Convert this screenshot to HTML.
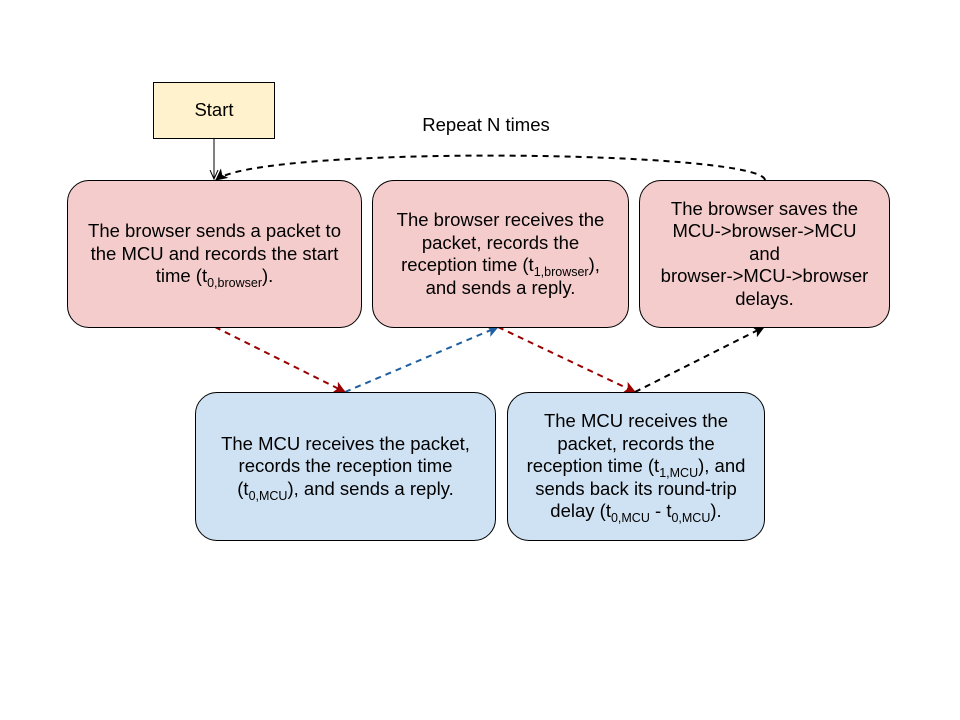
<!DOCTYPE html>
<html><head><meta charset="utf-8"><style>
body{margin:0;width:960px;height:720px;background:#fff;position:relative;font-family:"Liberation Sans",Arial,sans-serif;overflow:hidden}
.b{position:absolute;box-sizing:border-box;border:1px solid #000;display:flex;align-items:center;justify-content:center;text-align:center;font-size:18.5px;line-height:22.5px;color:#000;white-space:nowrap}
.r{background:#f4cccc;border-radius:22px}
.u{background:#cfe2f3;border-radius:22px}
sub{font-size:12.5px;vertical-align:-5px;line-height:0}
svg{position:absolute;left:0;top:0}
</style></head><body>
<svg width="960" height="720">
<defs>
<marker id="mr" markerWidth="12" markerHeight="12" refX="11" refY="6" orient="auto" markerUnits="userSpaceOnUse"><path d="M0,0 L12,6 L0,12 L3,6z" fill="#990000"/></marker>
<marker id="mb" markerWidth="12" markerHeight="12" refX="11" refY="6" orient="auto" markerUnits="userSpaceOnUse"><path d="M0,0 L12,6 L0,12 L3,6z" fill="#1f5fa0"/></marker>
<marker id="mk" markerWidth="12" markerHeight="12" refX="11" refY="6" orient="auto" markerUnits="userSpaceOnUse"><path d="M0,0 L12,6 L0,12 L3,6z" fill="#000"/></marker>
<marker id="mo" markerWidth="10" markerHeight="10" refX="9" refY="5" orient="auto" markerUnits="userSpaceOnUse"><path d="M0,1 L9,5 L0,9" fill="none" stroke="#000"/></marker>
</defs>
<line x1="214" y1="139" x2="214" y2="179" stroke="#000" stroke-width="1" marker-end="url(#mo)"/>
<path d="M765,180 C760,150 260,145 216,180" fill="none" stroke="#000" stroke-width="2" stroke-dasharray="6,5" marker-end="url(#mk)"/>
<line x1="215" y1="327" x2="345" y2="392" stroke="#990000" stroke-width="2" stroke-dasharray="6,5" marker-end="url(#mr)"/>
<line x1="345" y1="392" x2="498" y2="327" stroke="#1f5fa0" stroke-width="2" stroke-dasharray="6,5" marker-end="url(#mb)"/>
<line x1="498" y1="327" x2="635" y2="392" stroke="#990000" stroke-width="2" stroke-dasharray="6,5" marker-end="url(#mr)"/>
<line x1="635" y1="392" x2="764" y2="327" stroke="#000" stroke-width="2" stroke-dasharray="6,5" marker-end="url(#mk)"/>
<text x="486" y="131" font-size="18.5" text-anchor="middle" font-family="Liberation Sans,Arial,sans-serif">Repeat N times</text>
</svg>
<div class="b" style="left:153px;top:82px;width:122px;height:57px;background:#fff2cc">Start</div>
<div class="b r" style="left:67px;top:180px;width:295px;height:148px"><div>The browser sends a packet to<br>the MCU and records the start<br>time (t<sub>0,browser</sub>).</div></div>
<div class="b r" style="left:372px;top:180px;width:257px;height:148px"><div>The browser receives the<br>packet, records the<br>reception time (t<sub>1,browser</sub>),<br>and sends a reply.</div></div>
<div class="b r" style="left:639px;top:180px;width:251px;height:148px"><div>The browser saves the<br>MCU-&gt;browser-&gt;MCU<br>and<br>browser-&gt;MCU-&gt;browser<br>delays.</div></div>
<div class="b u" style="left:195px;top:392px;width:301px;height:149px"><div>The MCU receives the packet,<br>records the reception time<br>(t<sub>0,MCU</sub>), and sends a reply.</div></div>
<div class="b u" style="left:507px;top:392px;width:258px;height:149px"><div>The MCU receives the<br>packet, records the<br>reception time (t<sub>1,MCU</sub>), and<br>sends back its round-trip<br>delay (t<sub>0,MCU</sub> - t<sub>0,MCU</sub>).</div></div>
</body></html>
